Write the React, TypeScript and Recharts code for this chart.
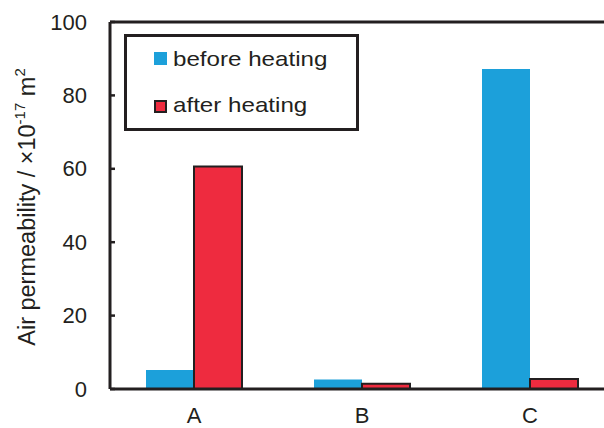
import React from 'react';
import { BarChart, Bar, XAxis, YAxis, ReferenceLine, Label } from 'recharts';

const categories = ['A', 'B', 'C'];
const beforeHeating = [5.2, 2.6, 87.2];
const afterHeating = [60.6, 1.4, 2.7];
const yTicks = [0, 20, 40, 60, 80, 100];
const seriesNames = ['before heating', 'after heating'];

const data = categories.map((c, i) => ({ name: c, before: beforeHeating[i], after: afterHeating[i] }));

const DARK = '#231f20';
const BLUE = '#1ca0da';
const RED = '#ee2b3f';
const FONT = '"Liberation Sans", Arial, Helvetica, sans-serif';

const YTick = (props: any) => {
  const { x, y, payload } = props;
  return (
    <g>
      <line x1={x} x2={x + 5} y1={y} y2={y} stroke={DARK} strokeWidth={2.5} />
      <text x={x - 23} y={y} textAnchor="end" dominantBaseline="central" fontSize={22} fill={DARK} fontFamily={FONT}>
        {payload.value}
      </text>
    </g>
  );
};

const legendText: React.CSSProperties = {
  position: 'absolute',
  left: 46,
  lineHeight: '24px',
  transform: 'scaleX(1.15)',
  transformOrigin: 'left center',
  whiteSpace: 'nowrap',
};

const LegendBox = () => (
  <div
    style={{
      position: 'absolute',
      left: 124,
      top: 34,
      boxSizing: 'border-box',
      width: 235,
      height: 97,
      border: `3px solid ${DARK}`,
      background: '#fff',
      fontFamily: FONT,
      fontSize: 21,
      color: DARK,
    }}
  >
    <div style={{ position: 'absolute', left: 27, top: 15, width: 13, height: 13, background: BLUE }} />
    <div style={{ ...legendText, top: 10 }}>{seriesNames[0]}</div>
    <div style={{ position: 'absolute', left: 27, top: 63, width: 13, height: 13, background: RED, boxSizing: 'border-box', border: `2px solid ${DARK}` }} />
    <div style={{ ...legendText, top: 56 }}>{seriesNames[1]}</div>
  </div>
);

const YLabel = () => {
  const cx = 27;
  const cy = 207;
  return (
    <text
      x={cx}
      y={cy}
      transform={`rotate(-90 ${cx} ${cy})`}
      textAnchor="middle"
      dominantBaseline="central"
      fontSize={23.5}
      fill={DARK}
      fontFamily={FONT}
    >
      <tspan>Air permeability / ×10</tspan>
      <tspan fontSize={15} dy={-8}>-17</tspan>
      <tspan dy={8}> m</tspan>
      <tspan fontSize={15} dy={-8}>2</tspan>
    </text>
  );
};

export default function App() {
  return (
    <div style={{ position: 'fixed', left: 0, top: 0, width: 604, height: 428, overflow: 'hidden', background: '#fff' }}>
      <BarChart
        width={620}
        height={428}
        data={data}
        margin={{ top: 22, right: 6, bottom: 0, left: 0 }}
        barCategoryGap={36}
        barGap={0}
      >
        <XAxis
          dataKey="name"
          axisLine={{ stroke: DARK, strokeWidth: 3 }}
          tickLine={false}
          tickSize={0}
          tickMargin={18}
          height={39}
          tick={{ fontSize: 22, fill: DARK, fontFamily: FONT }}
        />
        <YAxis
          domain={[0, 100]}
          ticks={yTicks}
          width={110}
          axisLine={{ stroke: DARK, strokeWidth: 3 }}
          tickLine={false}
          tickSize={0}
          tickMargin={0}
          tick={<YTick />}
          interval={0}
        >
          <Label content={<YLabel />} />
        </YAxis>
        <ReferenceLine y={100} stroke={DARK} strokeWidth={3} />
        <Bar dataKey="before" name={seriesNames[0]} fill={BLUE} isAnimationActive={false} />
        <Bar dataKey="after" name={seriesNames[1]} fill={RED} stroke={DARK} strokeWidth={2} isAnimationActive={false} />
      </BarChart>
      <LegendBox />
    </div>
  );
}
